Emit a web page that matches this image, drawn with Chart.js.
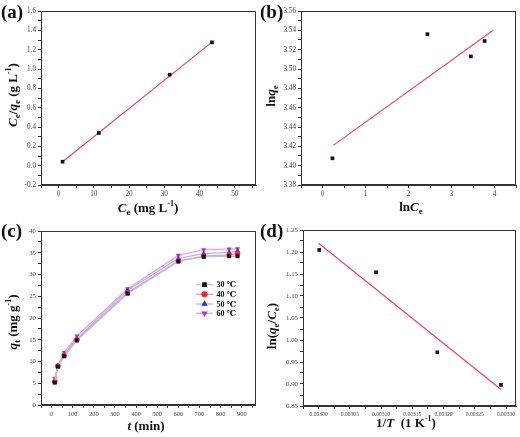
<!DOCTYPE html>
<html><head><meta charset="utf-8">
<script src="https://cdn.jsdelivr.net/npm/chart.js@4/dist/chart.umd.min.js"></script>
<style>
body{margin:0;background:#fff;}
#wrap{position:relative;width:520px;height:437px;overflow:hidden;font-family:"Liberation Serif","DejaVu Serif",serif;}
canvas{position:absolute;}
.t{position:absolute;font-weight:bold;font-size:13px;white-space:nowrap;color:#111;line-height:1;}
.t sub{font-size:9px;vertical-align:-3px;}
.t sup{font-size:8px;vertical-align:6px;}
.rot{transform:translate(-50%,-50%) rotate(-90deg);}
.hor{transform:translate(-50%,-50%);}
.pl{position:absolute;font-weight:bold;font-size:19px;color:#111;}
</style></head><body>
<div id="wrap">
<canvas id="ca" width="260" height="218" style="left:0;top:0"></canvas>
<canvas id="cb" width="260" height="218" style="left:260px;top:0"></canvas>
<canvas id="cc" width="260" height="219" style="left:0;top:218px"></canvas>
<canvas id="cd" width="260" height="219" style="left:260px;top:218px"></canvas>

<div class="pl" style="left:1px;top:1px">(a)</div>
<div class="pl" style="left:260px;top:1px">(b)</div>
<div class="pl" style="left:1px;top:220px">(c)</div>
<div class="pl" style="left:260px;top:220px">(d)</div>

<div class="t rot" style="left:13px;top:95px"><i>C</i><sub>e</sub>/<i>q</i><sub>e</sub> (g L<sup>-1</sup>)</div>
<div class="t hor" style="left:148px;top:208px"><i>C</i><sub>e</sub> (mg L<sup>-1</sup>)</div>
<div class="t rot" style="left:272px;top:96px">ln<i>q</i><sub>e</sub></div>
<div class="t hor" style="left:411px;top:208px">ln<i>C</i><sub>e</sub></div>
<div class="t rot" style="left:13px;top:322px"><i>q</i><sub>t</sub> (mg g<sup>-1</sup>)</div>
<div class="t hor" style="left:146px;top:425px"><i>t</i> (min)</div>
<div class="t rot" style="left:273px;top:326px">ln(<i>q</i><sub>e</sub>/<i>C</i><sub>e</sub>)</div>
<div class="t hor" style="left:406px;top:422px">1/<i>T</i>&nbsp; (1 K<sup>-1</sup>)</div>
</div>
<script>
// ---- Panel (a): Langmuir ----
const aCe = [1.12, 11.4, 31.5, 43.5];
const aCeQe = [0.041, 0.338, 0.941, 1.276];
const aFitX = [1.12, 43.5];
const aFitY = [0.040, 1.278];

// ---- Panel (b): Freundlich ----
const bLnCe = [0.23, 2.44, 3.45, 3.77];
const bLnQe = [3.4076, 3.536, 3.513, 3.529];
const bFitX = [0.25, 3.97];
const bFitY = [3.421, 3.540];

// ---- Panel (c): kinetics ----
const cTime = [15, 30, 60, 120, 360, 600, 720, 840, 880];
const cLabels = ['30 \u2103', '40 \u2103', '50 \u2103', '60 \u2103'];
const c30 = [5.15, 8.85, 11.2, 14.85, 25.6, 33.0, 34.1, 34.2, 34.2];
const c40 = [5.4, 8.95, 11.5, 15.0, 25.85, 33.15, 34.2, 34.5, 34.8];
const c50 = [5.6, 9.0, 11.7, 15.3, 26.4, 33.7, 34.8, 35.1, 35.4];
const c60 = [6.15, 9.15, 12.1, 15.85, 26.7, 34.4, 35.7, 35.85, 35.9];

// ---- Panel (d): van't Hoff ----
const dInvT = [0.003001, 0.003092, 0.003190, 0.003292];
const dLnK = [1.2047, 1.154, 0.972, 0.898];
const dFitX = [0.003000, 0.003292];
const dFitY = [1.220, 0.8877];

const pts = (xs, ys) => xs.map((x, i) => ({x, y: ys[i]}));
const FAM = '"Liberation Serif","DejaVu Serif",serif';
const AX = '#333';
const FIT = '#f2406e';

const framePlugin = {
  id: 'frame',
  afterDraw(chart) {
    const a = chart.chartArea, ctx = chart.ctx;
    ctx.save();
    ctx.strokeStyle = AX; ctx.lineWidth = 1;
    ctx.strokeRect(Math.round(a.left) + 0.5, Math.round(a.top) + 0.5,
      Math.round(a.right - a.left) - 1, Math.round(a.bottom - a.top) - 1);
    ctx.restore();
  }
};

function isMajor(v, major) {
  const r = v / major;
  return Math.abs(r - Math.round(r)) < 1e-4;
}

function axis(pos, min, max, minor, major, dec, fixed, fsize) {
  return {
    type: 'linear', position: pos, min, max,
    grid: {display: true, drawOnChartArea: false, drawTicks: true, tickLength: 3, color: AX, lineWidth: 1},
    border: {display: true, color: AX, width: 1},
    ticks: {
      stepSize: minor, autoSkip: false, maxRotation: 0, padding: 2, includeBounds: false,
      font: {family: FAM, size: fsize || 7.2}, color: '#444',
      callback: (v) => isMajor(v, major) ? Number(v).toFixed(dec) : ''
    },
    afterBuildTicks(s) {
      s.ticks = s.ticks.filter(t => isMajor(t.value, minor) && t.value >= min - 1e-12 && t.value <= max + 1e-12);
    },
    afterFit(s) {
      if (pos === 'left') { s.width = fixed; s.paddingTop = 0; s.paddingBottom = 0; }
      else { s.height = fixed; s.paddingLeft = 0; s.paddingRight = 0; }
    }
  };
}

function baseOptions(pad, xs, ys) {
  return {
    responsive: false, animation: false, events: [],
    layout: {padding: pad},
    plugins: {legend: {display: false}, tooltip: {enabled: false}},
    scales: {x: xs, y: ys}
  };
}

function scatterSet(xs, ys) {
  return {type: 'scatter', data: pts(xs, ys), pointStyle: 'rect', pointRadius: 2.6,
    backgroundColor: '#111', borderColor: '#111', borderWidth: 0, showLine: false, order: 1};
}
function fitSet(xs, ys) {
  return {type: 'line', data: pts(xs, ys), borderColor: FIT, borderWidth: 1.2,
    pointRadius: 0, fill: false, order: 2};
}

// (a)
new Chart(document.getElementById('ca'), {
  type: 'scatter',
  data: {datasets: [scatterSet(aCe, aCeQe), fitSet(aFitX, aFitY)]},
  options: baseOptions({top: 11, right: 2, left: 0, bottom: 0},
    axis('bottom', -5, 56, 5, 10, 0, 33),
    axis('left', -0.2, 1.6, 0.1, 0.2, 1, 41)),
  plugins: [framePlugin]
});

// (b)
new Chart(document.getElementById('cb'), {
  type: 'scatter',
  data: {datasets: [scatterSet(bLnCe, bLnQe), fitSet(bFitX, bFitY)]},
  options: baseOptions({top: 11, right: 2, left: 0, bottom: 0},
    axis('bottom', -0.5, 4.5, 0.5, 1, 0, 33),
    axis('left', 3.38, 3.56, 0.01, 0.02, 2, 41)),
  plugins: [framePlugin]
});

// (c)
const cSeries = [
  {vals: c30, pt: '#111111', ln: '#b9c3d6', style: 'rect', rot: 0},
  {vals: c40, pt: '#ff1f2a', ln: '#ff92b4', style: 'circle', rot: 0},
  {vals: c50, pt: '#2a38d0', ln: '#b7b8ea', style: 'triangle', rot: 0},
  {vals: c60, pt: '#a733e6', ln: '#eaa2ea', style: 'triangle', rot: 180}
];
const legendPlugin = {
  id: 'inlegend',
  afterDraw(chart) {
    const ctx = chart.ctx;
    const ys = [66.7, 76.3, 86, 95.3];
    chart.data.datasets.forEach((ds, i) => {
      const y = ys[i];
      ctx.save();
      ctx.strokeStyle = ds.borderColor; ctx.lineWidth = 1.3;
      ctx.beginPath(); ctx.moveTo(196, y); ctx.lineTo(213, y); ctx.stroke();
      ctx.fillStyle = ds.pointBackgroundColor; ctx.strokeStyle = ds.pointBackgroundColor;
      Chart.helpers.drawPoint(ctx, {pointStyle: ds.pointStyle, rotation: ds.pointRotation, radius: 2.4, borderWidth: 0.5}, 204.5, y);
      ctx.fillStyle = '#111';
      ctx.font = 'bold 8px ' + FAM;
      ctx.textBaseline = 'middle'; ctx.textAlign = 'left';
      ctx.fillText(ds.label, 216.5, y + 0.5);
      ctx.restore();
    });
  }
};
new Chart(document.getElementById('cc'), {
  type: 'line',
  data: {datasets: cSeries.map((s, i) => ({
    label: cLabels[i], data: pts(cTime, s.vals),
    borderColor: s.ln, borderWidth: 1.3, backgroundColor: s.pt,
    pointStyle: s.style, pointRotation: s.rot, pointRadius: 2.5,
    pointBackgroundColor: s.pt, pointBorderColor: s.pt, pointBorderWidth: 0.5,
    fill: false, tension: 0
  }))},
  options: baseOptions({top: 13, right: 3, left: 0, bottom: 0},
    axis('bottom', -50, 965, 50, 100, 0, 32, 6.5),
    axis('left', 0, 40, 2.5, 5, 0, 41, 6.8)),
  plugins: [framePlugin, legendPlugin]
});

// (d)
new Chart(document.getElementById('cd'), {
  type: 'scatter',
  data: {datasets: [scatterSet(dInvT, dLnK), fitSet(dFitX, dFitY)]},
  options: baseOptions({top: 12, right: 2, left: 0, bottom: 0},
    axis('bottom', 0.002975, 0.003316, 0.000025, 0.00005, 5, 31, 5.6),
    axis('left', 0.85, 1.25, 0.025, 0.05, 2, 43, 6.8)),
  plugins: [framePlugin]
});
</script>
</body></html>
